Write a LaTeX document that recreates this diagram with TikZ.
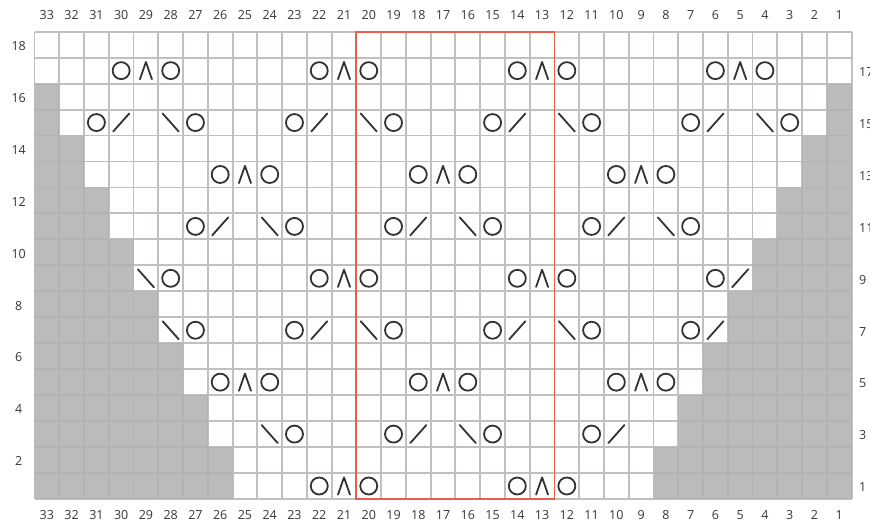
\documentclass[tikz,border=0pt]{standalone}
\usepackage{fontspec}
\newfontfamily\lblfont{Open Sans}
\definecolor{gridc}{RGB}{196,191,191}
\definecolor{shade}{RGB}{176,176,176}
\definecolor{redc}{RGB}{228,96,76}
\definecolor{ink}{RGB}{50,50,50}
\definecolor{lblc}{RGB}{55,55,55}
\tikzset{
  lbl/.style={font=\lblfont\fontsize{12.5}{14}\selectfont, text=lblc, inner sep=0pt},
  gridline/.style={draw=gridc, line width=1.9pt},
  shadefill/.style={fill=shade, fill opacity=0.85, draw=none},
  frame/.style={draw=redc, line width=1.9pt},
  sym/.style={draw=ink, line width=1.8pt, line cap=round, line join=round},
  yo/.pic={\draw[sym] (0,0) circle (8.5pt);},
  kslash/.pic={\draw[sym] (-8pt,-9pt) -- (8pt,9pt);},
  kback/.pic={\draw[sym] (-8pt,9pt) -- (8pt,-9pt);},
  cdd/.pic={\draw[sym] (-6pt,-8.6pt) -- (0pt,8.6pt) -- (6pt,-8.6pt);}
}
\begin{document}
\begin{tikzpicture}[x=1pt,y=-1pt]
\useasboundingbox (0,0) rectangle (870,525);
\fill[white] (0,0) rectangle (870,525);
\clip (0,0) rectangle (870,525);
\begin{scope}[shift={(34.5,31.7)}, x=24.76pt, y=-25.96pt]
  % grid
  \foreach \i in {0,...,33} \draw[gridline] (\i,0) -- (\i,18);
  \foreach \j in {0,...,18} \draw[gridline] (0,\j) -- (33,\j);
  % shaded staircases
  \fill[shadefill] (0,2) -- (1,2) -- (1,4) -- (2,4) -- (2,6) -- (3,6) -- (3,8) -- (4,8)
    -- (4,10) -- (5,10) -- (5,12) -- (6,12) -- (6,14) -- (7,14) -- (7,16) -- (8,16)
    -- (8,18) -- (0,18) -- cycle;
  \fill[shadefill] (33,2) -- (32,2) -- (32,4) -- (31,4) -- (31,6) -- (30,6) -- (30,8) -- (29,8)
    -- (29,10) -- (28,10) -- (28,12) -- (27,12) -- (27,14) -- (26,14) -- (26,16) -- (25,16)
    -- (25,18) -- (33,18) -- cycle;
  % repeat frame
  \draw[frame] (13,0) rectangle (21,18);
  % O ^ O groups (centre column / row)
  \foreach \m/\r in {29/17,21/17,13/17,5/17,25/13,17/13,9/13,21/9,13/9,25/5,17/5,9/5,21/1,13/1} {
    \pic at ({32.5-\m},{18.5-\r}) {yo};
    \pic at ({33.5-\m},{18.5-\r}) {cdd};
    \pic at ({34.5-\m},{18.5-\r}) {yo};
  }
  % O / pairs (column of O / row)
  \foreach \c/\r in {31/15,23/15,15/15,7/15,27/11,19/11,11/11,6/9,23/7,15/7,7/7,19/3,11/3} {
    \pic at ({33.5-\c},{18.5-\r}) {yo};
    \pic at ({34.5-\c},{18.5-\r}) {kslash};
  }
  % \ O pairs (column of \ / row)
  \foreach \c/\r in {28/15,20/15,12/15,4/15,24/11,16/11,8/11,29/9,28/7,20/7,12/7,24/3,16/3} {
    \pic at ({33.5-\c},{18.5-\r}) {kback};
    \pic at ({34.5-\c},{18.5-\r}) {yo};
  }
  % column numbers
  \foreach \c in {1,...,33} {
    \node[lbl] (t\c) at ({33.5-\c},-0.64) {\c};
    \node[lbl] (b\c) at ({33.5-\c},18.62) {\c};
  }
  % row numbers
  \foreach \r in {2,4,...,18} \node[lbl] (l\r) at (-0.64,{18.55-\r}) {\r};
  \foreach \r in {1,3,...,17} \node[lbl,anchor=west] (r\r) at (33.3,{18.55-\r}) {\r};
\end{scope}
\end{tikzpicture}
\end{document}
